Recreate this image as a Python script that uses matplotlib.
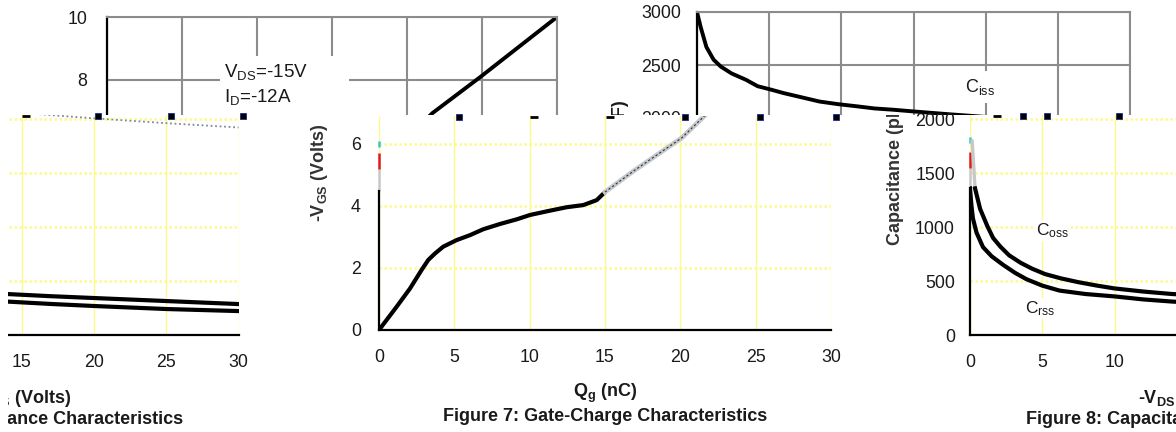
import matplotlib
matplotlib.use('Agg')
import matplotlib.pyplot as plt
from matplotlib.patches import Rectangle

W, H = 1176, 432

# Figure 7: gate charge, Qg (nC) against -VGS (Volts)
qg = [0, 1.17, 2.06, 2.83, 3.27, 3.72, 4.27, 5.15, 6.04, 6.92, 8.03, 9.14, 10.02, 11.35, 12.45,
	13.56, 14.45, 15.0, 16.9, 20.1, 21.7, 24.9, 30]
vgs = [0, 0.75, 1.34, 1.94, 2.26, 2.47, 2.69, 2.90, 3.06, 3.25, 3.42, 3.57, 3.71, 3.85, 3.96,
	4.03, 4.19, 4.45, 5.13, 6.2, 6.95, 8.1, 10.0]
gate_xticks = [0, 5, 10, 15, 20, 25, 30]
gate_yticks = [0, 2, 4, 6, 8, 10]
n_solid = 18  # points drawn solid in the shifted copy, the rest is the smeared part

# Figure 8: capacitance (pF) against -VDS (Volts)
v_iss = [0, 0.25, 0.65, 1.15, 1.65, 2.4, 3.4, 4.2, 5.2, 6.0, 7.25, 8.5, 9.8, 11.1, 12.3, 13.6, 14.9, 17.5, 20, 25, 30]
c_iss = [3000, 2860, 2670, 2550, 2485, 2420, 2360, 2300, 2265, 2235, 2195, 2155, 2130, 2110, 2090, 2078, 2063, 2035, 2010, 1965, 1925]
v_oss = [0.15, 0.35, 0.7, 1.2, 1.6, 2.1, 2.7, 3.5, 4.3, 5.2, 6.3, 7.5, 8.8, 10, 12, 14, 17, 20, 25, 30]
c_oss = [1800, 1360, 1170, 1010, 900, 820, 740, 670, 615, 565, 525, 490, 458, 432, 403, 380, 360, 343, 315, 287]
v_rss = [0, 0.1, 0.2, 0.45, 0.9, 1.5, 2.3, 3.1, 3.9, 5, 6.2, 8, 10, 12, 14, 17, 20, 25, 30]
c_rss = [1360, 1200, 1083, 950, 815, 730, 650, 578, 518, 458, 412, 380, 358, 330, 310, 288, 269, 241, 222]
cap_xticks = [0, 5, 10, 15, 20, 25, 30]
cap_yticks = [0, 500, 1000, 1500, 2000, 2500, 3000]

# leftover tick squares / dashes along the top edge of the shifted copy
gate_squares = [5.3, 20.3, 25.3, 30.3]
gate_dashes = [10.3, 15.3]
cap_squares = [3.7, 5.3, 10.3, 20.3, 25.3, 30.3]
cap_dashes = [1.9, 15.3]

# broken bits on the y axis line of the shifted copy (from, to, colour)
gate_axis_bits = [(4.5, 5.2, '#c8c8c8'), (5.2, 5.7, '#e01818'), (5.9, 6.1, '#30c8c8')]
cap_axis_bits = [(1360, 1550, '#c8c8c8'), (1550, 1700, '#e01818'), (1780, 1840, '#30c8c8')]

plt.rcParams['font.family'] = ['Liberation Sans', 'DejaVu Sans']
plt.rcParams['mathtext.fontset'] = 'custom'
plt.rcParams['mathtext.rm'] = 'Liberation Sans'
plt.rcParams['mathtext.bf'] = 'Liberation Sans:bold'
plt.rcParams['mathtext.it'] = 'Liberation Sans:italic'

fig = plt.figure(figsize=(W / 100, H / 100), dpi=100)
fig.patch.set_facecolor('white')

GRAY = '#8c8c8c'
YEL = '#fbfb8c'
TXT = '#1a1a1a'


def px(x, y, w, h):
	# pixel box (top-left origin) -> figure fraction
	return [x / W, 1 - (y + h) / H, w / W, h / H]


def ftext(x, y, s, **kw):
	return fig.text(x / W, 1 - y / H, s, **kw)


def ticks(ax, xpad, ypad):
	ax.tick_params(length=0, labelsize=12.8, labelcolor=TXT)
	ax.tick_params(axis='x', pad=xpad)
	ax.tick_params(axis='y', pad=ypad)


def only(labels, keep):
	return [str(v) if v in keep else '' for v in labels]


def gray_frame(ax):
	ax.set_axisbelow(True)
	ax.grid(True, color=GRAY, lw=1.5)
	for s in ['top', 'right', 'bottom']:
		ax.spines[s].set_color(GRAY)
		ax.spines[s].set_linewidth(1.5)
	ax.spines['left'].set_color('black')
	ax.spines['left'].set_linewidth(1.6)


def yellow_frame(ax):
	ax.patch.set_visible(False)
	ax.set_axisbelow(True)
	ax.xaxis.grid(True, color=YEL, lw=1.0)
	ax.yaxis.grid(True, color=YEL, lw=1.8, ls=(0, (1, 1)))
	ax.spines['top'].set_visible(False)
	ax.spines['right'].set_visible(False)
	for s in ['left', 'bottom']:
		ax.spines[s].set_color('black')
		ax.spines[s].set_linewidth(1.6)


def top_marks(ax, squares, dashes, ytop):
	ax.plot(squares, [ytop] * len(squares), ls='none', marker='s', ms=4.5,
			mfc='black', mec='#1a2a90', mew=0.6, clip_on=False, zorder=5)
	ax.plot(dashes, [ytop] * len(dashes), ls='none', marker='_', ms=6,
			mew=2, color='black', clip_on=False, zorder=5)


# ---- upper layer: the original charts, mostly hidden below ----
ax1 = fig.add_axes(px(107, 17, 450, 315), zorder=1)
ax1.set_xlim(0, 30)
ax1.set_ylim(0, 10)
ax1.set_xticks(gate_xticks)
ax1.set_yticks(gate_yticks, only(gate_yticks, [8, 10]))
gray_frame(ax1)
ticks(ax1, 12, 14)
ax1.tick_params(axis='x', labelbottom=False)
ax1.plot(qg, vgs, color='black', lw=2.8, solid_capstyle='butt')
ax1.add_patch(Rectangle((7.5, 6.0), 8.6, 2.75, facecolor='white', edgecolor='none', zorder=1.5))
ax1.text(7.8, 8.1, r'V$_{\mathrm{DS}}$=-15V', fontsize=13.5, color=TXT, va='baseline', zorder=3)
ax1.text(7.8, 7.3, r'I$_{\mathrm{D}}$=-12A', fontsize=13.5, color=TXT, va='baseline', zorder=3)

ax2 = fig.add_axes(px(697, 12, 433, 318), zorder=1)
ax2.set_xlim(0, 30)
ax2.set_ylim(0, 3000)
ax2.set_xticks(cap_xticks)
ax2.set_yticks(cap_yticks, only(cap_yticks, [2000, 2500, 3000]))
gray_frame(ax2)
ticks(ax2, 12, 11.5)
ax2.tick_params(axis='x', labelbottom=False)
ax2.plot(v_iss, c_iss, color='black', lw=2.8)
ax2.plot(v_oss, c_oss, color='black', lw=2.8)
ax2.plot(v_rss, c_rss, color='black', lw=2.8)
ax2.text(18.6, 2245, r'C$_{\mathrm{iss}}$', fontsize=13, color=TXT, va='baseline',
		bbox=dict(facecolor='white', edgecolor='none', pad=4))
ftext(621, 245, 'Capacitance (pF)', rotation=90, ha='center', va='bottom',
	fontsize=13, fontweight='bold', color=TXT, zorder=2)

# ---- lower layer: white band with the shifted copy ----
band = fig.add_axes(px(0, 115, W, H - 115), zorder=5)
band.set_xticks([])
band.set_yticks([])
for sp in band.spines.values():
	sp.set_visible(False)
band.set_facecolor('white')

# gate charge copy
ax3 = fig.add_axes(px(379, 116, 452, 214), zorder=6)
g_top = 214 / 31
ax3.set_xlim(0, 30)
ax3.set_ylim(0, g_top)
ax3.set_xticks(gate_xticks)
ax3.set_yticks(gate_yticks[:4])
yellow_frame(ax3)
ticks(ax3, 13.5, 13)
ax3.spines['left'].set_bounds(0, gate_axis_bits[0][0])
for lo, hi, c in gate_axis_bits:
	ax3.vlines(0, lo, hi, colors=c, lw=1.8, clip_on=False)
ax3.plot(qg[:n_solid], vgs[:n_solid], color='black', lw=3.0, solid_capstyle='round')
ax3.plot(qg[n_solid - 1:], vgs[n_solid - 1:], color='#c4c8cc', lw=3.4)
ax3.plot(qg[n_solid - 1:], vgs[n_solid - 1:], color='#303030', lw=0.8, ls=(0, (2, 2)))
top_marks(ax3, gate_squares, gate_dashes, g_top - 0.02)
ftext(319, 222, r'-V$_{\mathbf{GS}}$ (Volts)', rotation=90, ha='center', va='bottom',
	fontsize=13, fontweight='bold', color='#333333', zorder=7)
ftext(605, 397, r'Q$_{\mathbf{g}}$ (nC)', ha='center', va='baseline',
	fontsize=13, fontweight='bold', color=TXT, zorder=7)
ftext(605, 421, 'Figure 7: Gate-Charge Characteristics', ha='center', va='baseline',
	fontsize=13, fontweight='bold', color=TXT, zorder=7)

# capacitance copy, wrapped round: its right part shows at the left edge
c_top = 220 / 0.1078
for x0, shown_x, shown_y in [(970, [0, 5, 10], cap_yticks[:5]), (970 - 1165, [15, 20, 25, 30], [])]:
	ax = fig.add_axes(px(x0, 115, 433.5, 220), zorder=6)
	ax.set_xlim(0, 30)
	ax.set_ylim(0, c_top)
	ax.set_xticks(cap_xticks, only(cap_xticks, shown_x))
	ax.set_yticks(cap_yticks[:5], only(cap_yticks[:5], shown_y))
	yellow_frame(ax)
	ticks(ax, 14, 10.8)
	ax.spines['left'].set_bounds(0, cap_axis_bits[0][0])
	for lo, hi, c in cap_axis_bits:
		ax.vlines(0, lo, hi, colors=c, lw=1.8, clip_on=False)
	ax.plot(v_iss, c_iss, color='#7f8a9a', lw=1.3, ls=(0, (1, 1.5)))
	ax.plot(v_oss[:2], c_oss[:2], color='#c8c8c8', lw=2.4)
	ax.plot(v_oss[1:], c_oss[1:], color='black', lw=3.0)
	ax.plot(v_rss, c_rss, color='black', lw=3.0)
	if x0 > 0:
		ax.text(4.6, 928, r'C$_{\mathrm{oss}}$', fontsize=12.5, color=TXT, va='baseline',
				bbox=dict(facecolor='white', edgecolor='none', pad=1))
		ax.text(3.8, 204, r'C$_{\mathrm{rss}}$', fontsize=12.5, color=TXT, va='baseline',
				bbox=dict(facecolor='white', edgecolor='none', pad=1))
	top_marks(ax, cap_squares, cap_dashes, c_top - 8)
	xc = x0 + 217
	ftext(xc, 403, r'-V$_{\mathbf{DS}}$ (Volts)', ha='center', va='baseline',
		fontsize=13, fontweight='bold', color=TXT, zorder=7)
	ftext(xc, 424, 'Figure 8: Capacitance Characteristics', ha='center', va='baseline',
		fontsize=13, fontweight='bold', color=TXT, zorder=7)

band.text(895 / W, 1 - 245 / H, 'Capacitance (pF)', transform=fig.transFigure,
		rotation=90, ha='center', va='bottom', fontsize=13, fontweight='bold',
		color='#333333', clip_on=True)

# thin white strip where the wrapped copy starts
edge = fig.add_axes(px(0, 115, 8, H - 115), zorder=8)
edge.set_xticks([])
edge.set_yticks([])
for sp in edge.spines.values():
	sp.set_visible(False)
edge.set_facecolor('white')

fig.savefig('out.png', dpi=100, facecolor='white')
